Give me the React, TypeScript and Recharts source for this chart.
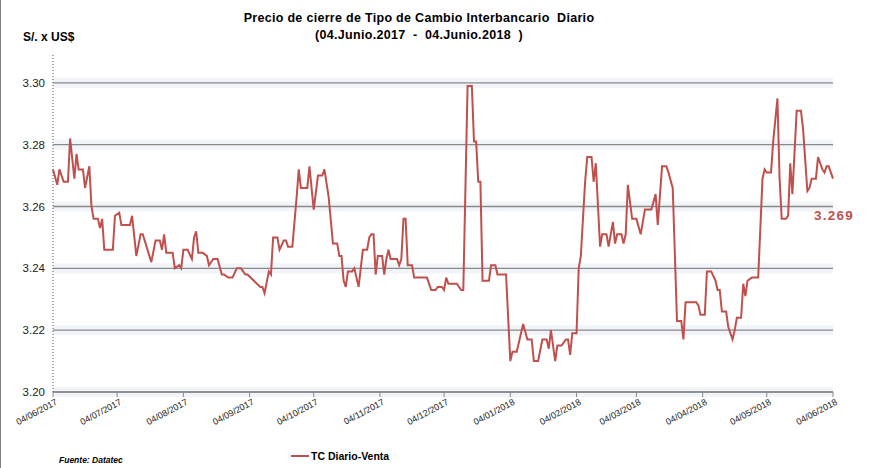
import { LineChart, Line, XAxis, YAxis, CartesianGrid } from "recharts";

// dias desde 04/06/2017
const dayOffsets = [
  0, 2, 3, 5, 7, 8, 10, 11, 12, 14,
  15, 17, 18, 19, 21, 22, 23, 24, 28, 29,
  31, 32, 36, 37, 39, 41, 42, 46, 48, 50,
  51, 52, 53, 56, 57, 59, 60, 61, 63, 65,
  66, 67, 68, 70, 72, 73, 75, 77, 79, 80,
  82, 84, 86, 88, 90, 91, 97, 98, 99, 101,
  102, 103, 105, 106, 108, 109, 110, 112, 114, 115,
  116, 119, 120, 122, 124, 126, 127, 129, 131, 133,
  134, 135, 136, 137, 138, 140, 141, 143, 145, 147,
  148, 149, 150, 151, 152, 154, 155, 156, 157, 158,
  159, 161, 162, 163, 164, 165, 166, 168, 169, 171,
  175, 177, 178, 179, 180, 182, 183, 184, 185, 189,
  191, 192, 194, 196, 197, 198, 199, 200, 201, 204,
  205, 207, 208, 212, 214, 215, 217, 220, 222, 224,
  225, 227, 229, 231, 232, 233, 235, 236, 238, 240,
  241, 242, 243, 245, 246, 247, 249, 250, 252, 253,
  254, 256, 257, 259, 260, 262, 263, 264, 266, 267,
  268, 269, 271, 273, 275, 277, 280, 282, 283, 285,
  287, 288, 290, 292, 294, 295, 296, 301, 302, 303,
  305, 306, 308, 310, 311, 312, 313, 315, 316, 318,
  319, 320, 322, 323, 324, 325, 327, 330, 332, 333,
  334, 336, 337, 339, 340, 341, 343, 344, 345, 346,
  348, 350, 351, 353, 354, 355, 357, 358, 360, 361,
  362, 363, 365,
];

const tcVenta = [
  3.272, 3.267, 3.272, 3.268, 3.268, 3.282, 3.269, 3.277, 3.272, 3.272,
  3.266, 3.273, 3.26, 3.256, 3.256, 3.253, 3.256, 3.246, 3.246, 3.257,
  3.258, 3.254, 3.254, 3.257, 3.244, 3.251, 3.251, 3.242, 3.249, 3.249,
  3.246, 3.251, 3.245, 3.245, 3.24, 3.241, 3.24, 3.246, 3.246, 3.243,
  3.25, 3.252, 3.245, 3.245, 3.244, 3.241, 3.243, 3.243, 3.238, 3.238,
  3.237, 3.237, 3.24, 3.24, 3.238, 3.238, 3.234, 3.234, 3.232, 3.239,
  3.238, 3.25, 3.25, 3.246, 3.249, 3.249, 3.247, 3.247, 3.263, 3.272,
  3.266, 3.266, 3.273, 3.259, 3.27, 3.27, 3.272, 3.263, 3.248, 3.248,
  3.244, 3.244, 3.236, 3.234, 3.239, 3.239, 3.24, 3.234, 3.246, 3.246,
  3.25, 3.251, 3.251, 3.238, 3.244, 3.244, 3.238, 3.243, 3.246, 3.243,
  3.243, 3.243, 3.241, 3.243, 3.256, 3.256, 3.241, 3.241, 3.237, 3.237,
  3.237, 3.233, 3.233, 3.233, 3.234, 3.234, 3.233, 3.237, 3.235, 3.235,
  3.233, 3.233, 3.299, 3.299, 3.281, 3.281, 3.268, 3.268, 3.236, 3.236,
  3.241, 3.241, 3.238, 3.238, 3.21, 3.213, 3.213, 3.222, 3.217, 3.217,
  3.21, 3.21, 3.217, 3.217, 3.214, 3.22, 3.21, 3.215, 3.215, 3.217,
  3.217, 3.212, 3.219, 3.219, 3.24, 3.244, 3.268, 3.276, 3.276, 3.268,
  3.274, 3.247, 3.251, 3.251, 3.247, 3.255, 3.248, 3.251, 3.251, 3.248,
  3.251, 3.267, 3.256, 3.256, 3.251, 3.259, 3.259, 3.264, 3.254, 3.273,
  3.273, 3.271, 3.266, 3.223, 3.223, 3.217, 3.229, 3.229, 3.228, 3.225,
  3.225, 3.239, 3.239, 3.236, 3.233, 3.233, 3.226, 3.226, 3.221, 3.217,
  3.22, 3.224, 3.224, 3.235, 3.231, 3.236, 3.237, 3.237, 3.269, 3.272,
  3.271, 3.271, 3.281, 3.295, 3.269, 3.256, 3.256, 3.257, 3.274, 3.264,
  3.291, 3.291, 3.285, 3.265, 3.266, 3.269, 3.269, 3.276, 3.272, 3.271,
  3.273, 3.273, 3.269,
];

const tickDays = [0, 30, 61, 92, 122, 153, 183, 214, 245, 273, 304, 334, 365];
const tickLabels = [
  "04/06/2017", "04/07/2017", "04/08/2017", "04/09/2017", "04/10/2017",
  "04/11/2017", "04/12/2017", "04/01/2018", "04/02/2018", "04/03/2018",
  "04/04/2018", "04/05/2018", "04/06/2018",
];
const yTicks = [3.2, 3.22, 3.24, 3.26, 3.28, 3.3];

const data = dayOffsets.map((day, i) => ({ day, venta: tcVenta[i] }));

const RED = "#c0504d";
const FONT = "'Liberation Sans', Arial, sans-serif";
const TOP = 55;

function DateTick(props: any) {
  const { x, y, payload } = props;
  const idx = tickDays.indexOf(payload.value);
  const tx = x + 5;
  const ty = y + 5;
  return (
    <text
      x={tx}
      y={ty}
      textAnchor="end"
      fontSize={9}
      fontFamily={FONT}
      fill="#222"
      transform={`rotate(-28, ${tx}, ${ty})`}
    >
      {tickLabels[idx]}
    </text>
  );
}

function GridLine(p: any) {
  // no line at the top edge of the plot (only at the ticks)
  if (p.y1 <= TOP + 1) return <g key={p.key} />;
  return (
    <g key={p.key}>
      <rect x={p.x1} y={p.y1 - 5} width={p.x2 - p.x1} height={10} fill="#eef1f7" opacity={0.8} />
      <line x1={p.x1} y1={p.y1} x2={p.x2} y2={p.y2} stroke="#8a8a8a" strokeWidth={1.3} />
    </g>
  );
}

function LastLabel(props: any) {
  const { x, y, index } = props;
  if (index !== data.length - 1) return null;
  return (
    <text
      x={x + 1}
      y={y + 41}
      textAnchor="middle"
      fontSize={13.5}
      letterSpacing={1.2}
      fontWeight="bold"
      fontFamily={FONT}
      fill={RED}
    >
      {tcVenta[tcVenta.length - 1].toFixed(3)}
    </text>
  );
}

export default function App() {
  return (
    <div
      style={{
        position: "absolute",
        top: 0,
        left: 0,
        width: 879,
        height: 468,
        background: "#fff",
        borderLeft: "1px solid #7f7f7f",
        boxSizing: "border-box",
        fontFamily: FONT,
      }}
    >
      <div style={{ position: "absolute", left: 22, top: 30, fontSize: 12, fontWeight: "bold" }}>S/. x US$</div>
      <div
        style={{
          position: "absolute",
          left: 0,
          width: 836,
          top: 10,
          textAlign: "center",
          fontSize: 12.5,
          fontWeight: "bold",
          lineHeight: "17px",
          letterSpacing: 0.3,
        }}
      >
        <div>Precio de cierre de Tipo de Cambio Interbancario&nbsp; Diario</div>
        <div>(04.Junio.2017&nbsp; -&nbsp; 04.Junio.2018&nbsp; )</div>
      </div>

      <LineChart width={879} height={468} data={data} margin={{ top: TOP, right: 47, bottom: 0, left: 0 }}>
        <CartesianGrid vertical={false} horizontal={GridLine} />
        <XAxis
          dataKey="day"
          type="number"
          domain={[0, 365]}
          ticks={tickDays}
          interval={0}
          height={76}
          tickSize={5}
          tickMargin={2}
          axisLine={{ stroke: "#8a8a8a", strokeWidth: 1.3 }}
          tickLine={{ stroke: "#8a8a8a" }}
          tick={<DateTick />}
        />
        <YAxis
          type="number"
          domain={[3.2, 3.309]}
          ticks={yTicks}
          width={52}
          tickSize={0}
          tickMargin={8}
          tickLine={false}
          axisLine={{ stroke: "#555", strokeDasharray: "1 2" }}
          tickFormatter={(v: number) => v.toFixed(2)}
          tick={{ fontSize: 11.5, fill: "#222", fontFamily: FONT }}
          allowDataOverflow
        />
        <Line
          type="linear"
          dataKey="venta"
          stroke={RED}
          strokeWidth={2}
          dot={false}
          isAnimationActive={false}
          label={<LastLabel />}
        />
      </LineChart>

      <div style={{ position: "absolute", left: 290, top: 450, display: "flex", alignItems: "center" }}>
        <span style={{ display: "inline-block", width: 18, height: 2, background: RED, marginRight: 2 }} />
        <span style={{ fontSize: 10.5, fontWeight: "bold" }}>TC Diario-Venta</span>
      </div>
      <div style={{ position: "absolute", left: 58, top: 455, fontSize: 8.5, fontWeight: "bold", fontStyle: "italic" }}>
        Fuente: Datatec
      </div>
    </div>
  );
}
